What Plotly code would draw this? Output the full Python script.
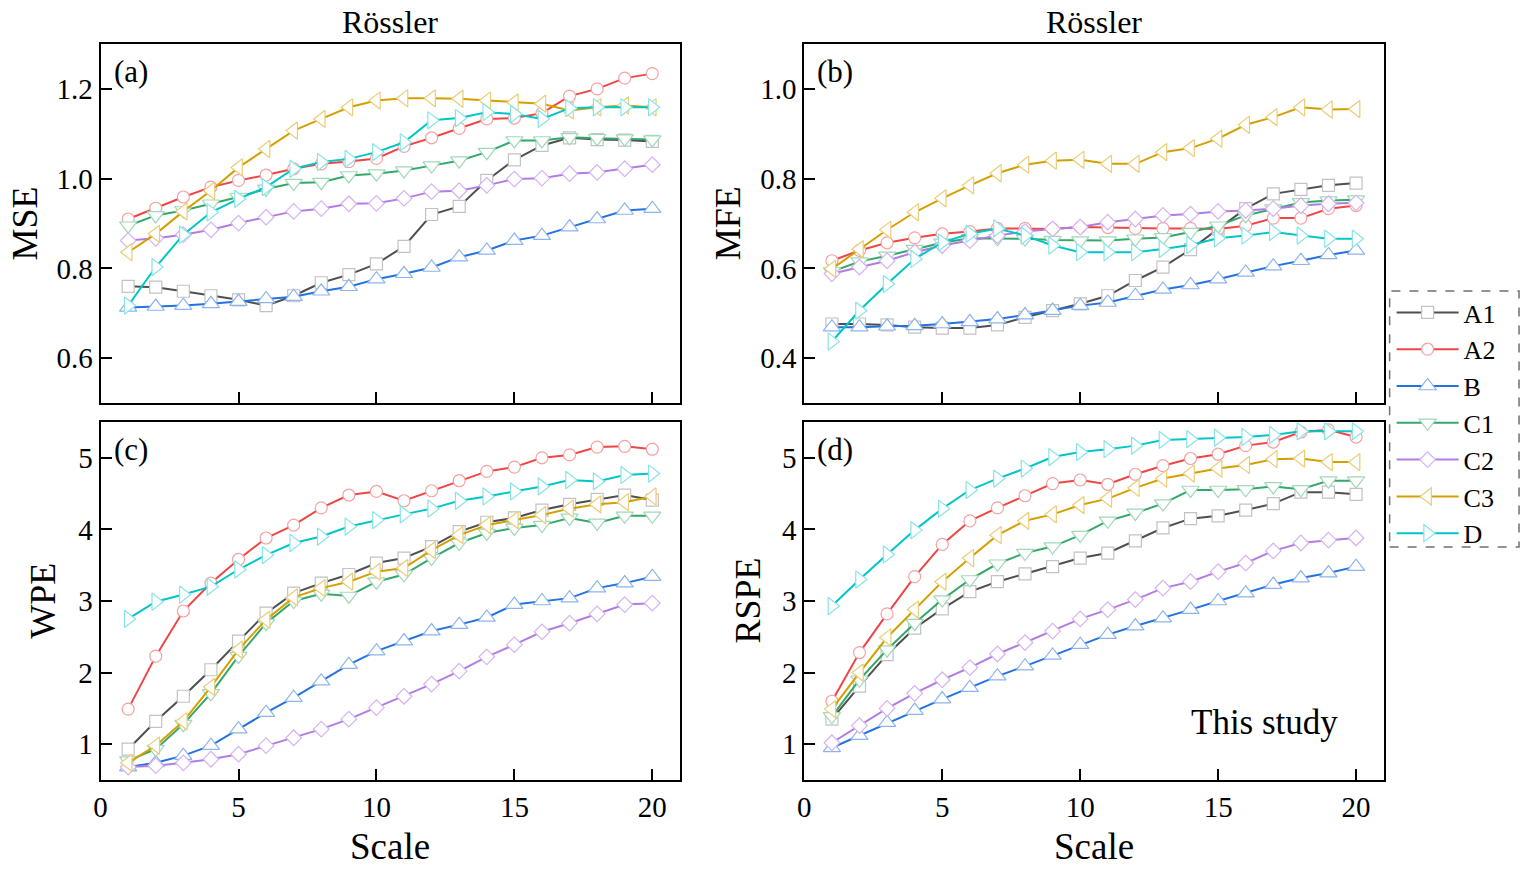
import plotly.graph_objects as go

scale = list(range(1, 21))
names = ["A1", "A2", "B", "C1", "C2", "C3", "D"]

# MSE (a)
mse_A1 = [0.760,0.758,0.749,0.739,0.730,0.717,0.739,0.768,0.786,0.810,0.849,0.920,0.938,0.996,1.042,1.074,1.091,1.087,1.086,1.083]
mse_A2 = [0.910,0.934,0.959,0.981,0.996,1.008,1.022,1.033,1.038,1.045,1.072,1.091,1.112,1.133,1.135,1.146,1.184,1.200,1.224,1.234]
mse_B  = [0.713,0.715,0.717,0.721,0.726,0.732,0.737,0.749,0.759,0.776,0.788,0.802,0.825,0.840,0.862,0.873,0.892,0.910,0.929,0.933]
mse_C1 = [0.895,0.918,0.929,0.944,0.959,0.977,0.990,0.992,1.007,1.011,1.018,1.029,1.040,1.059,1.085,1.085,1.092,1.090,1.089,1.087]
mse_C2 = [0.862,0.867,0.875,0.886,0.901,0.914,0.927,0.933,0.944,0.945,0.956,0.971,0.973,0.985,0.999,1.001,1.011,1.014,1.022,1.031]
mse_C3 = [0.836,0.877,0.927,0.973,1.025,1.066,1.107,1.133,1.159,1.174,1.179,1.179,1.178,1.174,1.170,1.167,1.152,1.159,1.163,1.159]
mse_D  = [0.717,0.803,0.875,0.925,0.955,0.981,1.022,1.037,1.044,1.059,1.081,1.130,1.135,1.148,1.144,1.133,1.157,1.159,1.159,1.159]

# MFE (b)
mfe_A1 = [0.476,0.476,0.474,0.469,0.467,0.467,0.474,0.491,0.506,0.521,0.539,0.573,0.603,0.642,0.688,0.733,0.766,0.776,0.785,0.790]
mfe_A2 = [0.617,0.640,0.657,0.668,0.677,0.682,0.689,0.689,0.688,0.692,0.691,0.689,0.689,0.689,0.688,0.695,0.712,0.712,0.733,0.740]
mfe_B  = [0.469,0.469,0.471,0.472,0.476,0.481,0.487,0.496,0.506,0.517,0.524,0.539,0.553,0.563,0.576,0.591,0.605,0.617,0.630,0.640]
mfe_C1 = [0.593,0.615,0.628,0.643,0.657,0.667,0.667,0.666,0.663,0.662,0.662,0.666,0.669,0.681,0.695,0.718,0.733,0.747,0.751,0.753]
mfe_C2 = [0.588,0.603,0.617,0.636,0.651,0.662,0.673,0.682,0.688,0.692,0.703,0.710,0.718,0.721,0.727,0.729,0.733,0.740,0.744,0.746]
mfe_C3 = [0.599,0.643,0.686,0.725,0.756,0.785,0.812,0.831,0.840,0.842,0.833,0.833,0.859,0.868,0.889,0.920,0.937,0.959,0.954,0.955]
mfe_D  = [0.437,0.506,0.565,0.621,0.658,0.677,0.689,0.673,0.651,0.636,0.636,0.636,0.643,0.652,0.667,0.673,0.681,0.673,0.666,0.666]

# WPE (c)
wpe_A1 = [0.93,1.32,1.67,2.04,2.44,2.83,3.11,3.25,3.37,3.53,3.60,3.76,3.97,4.10,4.16,4.27,4.35,4.42,4.48,4.41]
wpe_A2 = [1.49,2.23,2.86,3.25,3.58,3.88,4.06,4.30,4.48,4.53,4.40,4.54,4.68,4.81,4.87,5.00,5.04,5.15,5.16,5.12]
wpe_B  = [0.68,0.74,0.84,0.98,1.21,1.44,1.65,1.88,2.11,2.30,2.44,2.58,2.67,2.77,2.95,3.00,3.04,3.18,3.25,3.34]
wpe_C1 = [0.77,0.93,1.28,1.71,2.23,2.69,3.00,3.10,3.07,3.27,3.37,3.60,3.81,3.95,4.02,4.06,4.16,4.09,4.19,4.19]
wpe_C2 = [0.68,0.70,0.74,0.79,0.86,0.98,1.09,1.21,1.35,1.51,1.67,1.84,2.02,2.22,2.39,2.57,2.69,2.82,2.95,2.97]
wpe_C3 = [0.74,0.98,1.32,1.80,2.32,2.74,3.05,3.18,3.27,3.41,3.46,3.71,3.92,4.06,4.13,4.20,4.29,4.35,4.38,4.46]
wpe_D  = [2.75,2.99,3.09,3.20,3.44,3.64,3.81,3.90,4.04,4.13,4.21,4.29,4.40,4.46,4.53,4.60,4.69,4.67,4.76,4.78]

# RSPE (d)
rspe_A1 = [1.35,1.81,2.25,2.62,2.89,3.13,3.27,3.38,3.48,3.60,3.67,3.84,4.02,4.15,4.19,4.27,4.36,4.52,4.52,4.49]
rspe_A2 = [1.60,2.28,2.82,3.34,3.79,4.12,4.30,4.47,4.64,4.69,4.63,4.77,4.89,4.99,5.05,5.17,5.22,5.36,5.39,5.29]
rspe_B  = [0.95,1.12,1.30,1.47,1.63,1.79,1.95,2.09,2.24,2.39,2.53,2.65,2.76,2.88,3.00,3.11,3.23,3.32,3.39,3.48]
rspe_C1 = [1.39,1.90,2.32,2.69,3.02,3.30,3.52,3.67,3.76,3.92,4.12,4.23,4.36,4.55,4.55,4.56,4.60,4.56,4.68,4.68]
rspe_C2 = [1.02,1.26,1.50,1.71,1.90,2.07,2.26,2.42,2.58,2.75,2.88,3.02,3.18,3.27,3.41,3.53,3.70,3.81,3.85,3.88]
rspe_C3 = [1.49,2.00,2.49,2.88,3.27,3.60,3.92,4.12,4.21,4.34,4.43,4.58,4.71,4.78,4.85,4.90,4.98,4.99,4.94,4.94]
rspe_D  = [2.93,3.30,3.65,3.99,4.29,4.55,4.71,4.85,5.01,5.08,5.12,5.17,5.25,5.26,5.28,5.29,5.32,5.37,5.37,5.37]

panels = [
    [mse_A1, mse_A2, mse_B, mse_C1, mse_C2, mse_C3, mse_D],
    [mfe_A1, mfe_A2, mfe_B, mfe_C1, mfe_C2, mfe_C3, mfe_D],
    [wpe_A1, wpe_A2, wpe_B, wpe_C1, wpe_C2, wpe_C3, wpe_D],
    [rspe_A1, rspe_A2, rspe_B, rspe_C1, rspe_C2, rspe_C3, rspe_D],
]

line_colors = ["#4f4f4f", "#f04545", "#2272e0", "#33a86a", "#b27ce2", "#d4a000", "#00c6c8"]
edge_colors = ["#c2c2c2", "#f6a2a2", "#8db4ee", "#a0d8b8", "#d6b2f2", "#eacd78", "#88e4e6"]
symbols = ["square", "circle", "triangle-up", "triangle-down", "diamond", "triangle-left", "triangle-right"]
sizes = [12, 12, 15, 15, 12, 15, 15]

W, H = 1525, 871
FONT = "Liberation Serif"

def fx(p):
    return p / W

def fy(p):
    return 1 - p / H

boxes = [  # left, right, top, bottom in pixels
    (94, 676, 44, 403),
    (801, 1383, 44, 403),
    (94, 676, 422, 780),
    (801, 1383, 422, 780),
]
yranges = [[0.5, 1.3], [0.3, 1.1], [0.5, 5.5], [0.5, 5.5]]
ytickvals = [[0.6, 0.8, 1.0, 1.2], [0.4, 0.6, 0.8, 1.0], [1, 2, 3, 4, 5], [1, 2, 3, 4, 5]]
ytickfmt = [".1f", ".1f", "d", "d"]

fig = go.Figure()

for p, series in enumerate(panels):
    ax = "" if p == 0 else str(p + 1)
    for i, vals in enumerate(series):
        fig.add_trace(go.Scatter(
            x=scale, y=vals, mode="lines+markers", name=names[i],
            xaxis="x" + ax, yaxis="y" + ax,
            showlegend=(p == 0),
            line=dict(color=line_colors[i], width=2),
            marker=dict(symbol=symbols[i], size=sizes[i], color="white",
                        line=dict(color=edge_colors[i], width=1.2)),
        ))

TICKFONT = dict(family=FONT, size=29, color="black")

layout = dict(
    width=W, height=H,
    margin=dict(l=0, r=0, t=0, b=0),
    paper_bgcolor="white", plot_bgcolor="white",
    font=dict(family=FONT, size=29, color="black"),
    showlegend=True,
    legend=dict(x=fx(1391), y=fy(289), xanchor="left", yanchor="top",
                bgcolor="rgba(0,0,0,0)", borderwidth=0,
                font=dict(family=FONT, size=26, color="black"),
                itemwidth=62, tracegroupgap=0),
)

for p, (l, r, t, b) in enumerate(boxes):
    ax = "" if p == 0 else str(p + 1)
    layout["xaxis" + ax] = dict(
        domain=[fx(l), fx(r)], anchor="y" + ax, range=[0, 21],
        tickvals=[0, 5, 10, 15, 20], ticks="inside", ticklen=11, tickwidth=2,
        tickcolor="black", showline=True, linewidth=2, linecolor="black",
        mirror=True, showgrid=False, zeroline=False,
        showticklabels=(p >= 2), tickfont=TICKFONT,
    )
    layout["yaxis" + ax] = dict(
        domain=[fy(b), fy(t)], anchor="x" + ax, range=yranges[p],
        tickvals=ytickvals[p], tickformat=ytickfmt[p], ticks="inside",
        ticklen=11, tickwidth=2, tickcolor="black", showline=True,
        linewidth=2, linecolor="black", mirror=True, showgrid=False,
        zeroline=False, tickfont=TICKFONT,
    )

annotations = []
letters = ["(a)", "(b)", "(c)", "(d)"]
for p, (l, r, t, b) in enumerate(boxes):
    annotations.append(dict(text=letters[p], x=fx(l + 11), y=fy(t + 8),
                            xref="paper", yref="paper", xanchor="left", yanchor="top",
                            showarrow=False, font=dict(family=FONT, size=31)))

titles_y = ["MSE", "MFE", "WPE", "RSPE"]
title_x = [18, 724, 36, 744]
for p, (l, r, t, b) in enumerate(boxes):
    annotations.append(dict(text=titles_y[p], x=fx(title_x[p]), y=fy((t + b) / 2),
                            xref="paper", yref="paper", xanchor="center", yanchor="middle",
                            textangle=-90, showarrow=False, font=dict(family=FONT, size=36)))

for p in (0, 1):
    l, r, t, b = boxes[p]
    annotations.append(dict(text="Rössler", x=fx((l + r) / 2), y=fy(22),
                            xref="paper", yref="paper", xanchor="center", yanchor="middle",
                            showarrow=False, font=dict(family=FONT, size=32)))

for p in (2, 3):
    l, r, t, b = boxes[p]
    annotations.append(dict(text="Scale", x=fx((l + r) / 2), y=fy(846),
                            xref="paper", yref="paper", xanchor="center", yanchor="middle",
                            showarrow=False, font=dict(family=FONT, size=37)))

annotations.append(dict(text="This study", x=fx(1263), y=fy(722),
                        xref="paper", yref="paper", xanchor="center", yanchor="middle",
                        showarrow=False, font=dict(family=FONT, size=35)))

layout["annotations"] = annotations
layout["shapes"] = [dict(type="rect", xref="paper", yref="paper",
                         x0=fx(1389), x1=fx(1519), y0=fy(547), y1=fy(291),
                         line=dict(color="#707070", width=1.5, dash="dash"),
                         fillcolor="rgba(0,0,0,0)")]

fig.update_layout(**layout)
fig.write_html("out.html", config={"displayModeBar": False},
               post_script="document.body.style.margin='0';document.body.style.overflow='hidden';")
